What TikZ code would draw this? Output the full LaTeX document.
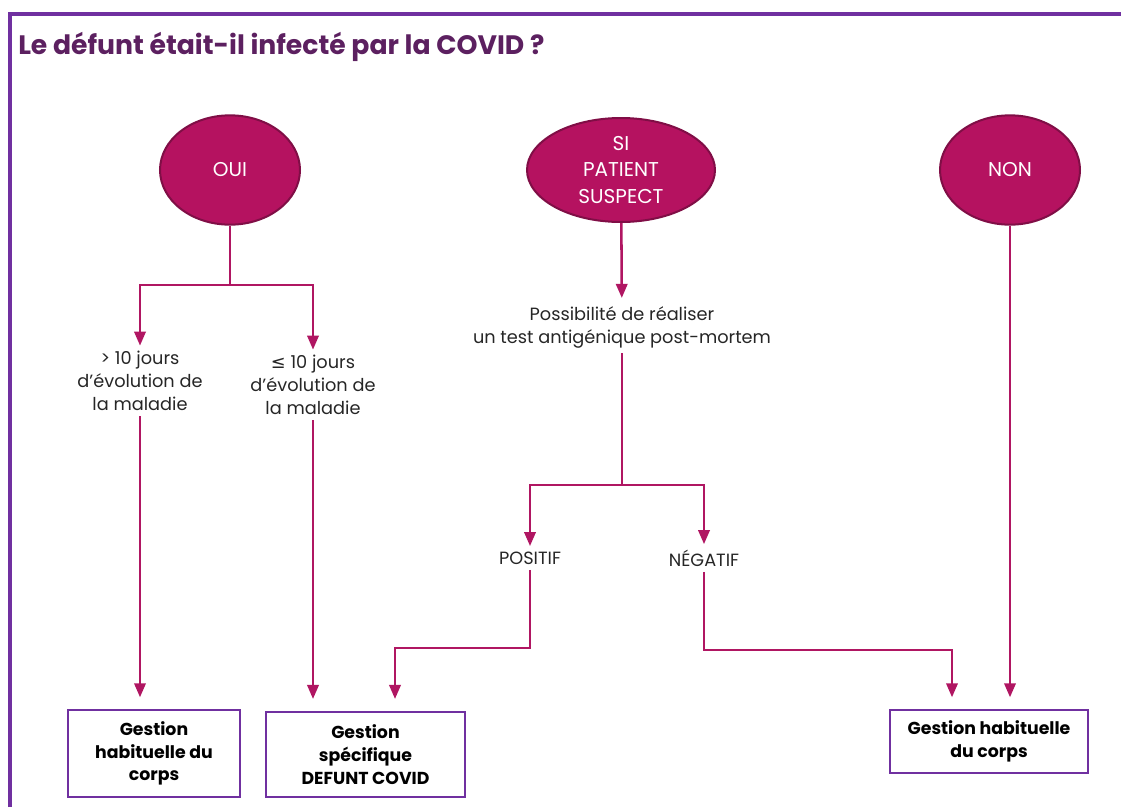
\documentclass[tikz,border=0pt]{standalone}
\usepackage{fontspec}
\setmainfont{Poppins}
\newfontfamily\symfont{DejaVu Sans}
\usetikzlibrary{shapes.geometric,arrows.meta}

\begin{document}
\begin{tikzpicture}[x=0.75pt, y=-0.75pt, >={Triangle[length=10.5pt,width=8.5pt]},
  choix/.style={ellipse, draw=bordchoix, line width=1.5pt, fill=fondchoix,
    text=white, align=center, inner sep=0pt, font=\fontsize{15}{20}\selectfont},
  etape/.style={align=center, inner sep=4pt, text=black!85,
    font=\fontsize{13.3}{17.2}\selectfont},
  gestion/.style={draw=cadre, line width=1.3pt, fill=white, align=center,
    font=\bfseries\fontsize{13}{17}\selectfont},
  lien/.style={draw=lien, line width=1.9pt},
  fleche/.style={lien, ->}]

\definecolor{cadre}{RGB}{112,48,160}
\definecolor{titre}{RGB}{92,32,96}
\definecolor{fondchoix}{RGB}{181,18,96}
\definecolor{bordchoix}{RGB}{128,14,70}
\definecolor{lien}{RGB}{176,22,98}

\useasboundingbox (0,0) rectangle (1121,807);

% cadre et titre
\draw[cadre, line width=3pt] (10,807) -- (10,14) -- (1121,14);
\node[anchor=west, inner sep=0pt, text=titre,
  font=\bfseries\fontsize{20}{24}\selectfont] (question) at (18,47)
  {Le défunt était-il infecté par la COVID ?};

% les trois cas
\node[choix, minimum width=105pt, minimum height=82pt] (oui) at (230,170) {OUI};
\node[choix, minimum width=141pt, minimum height=78pt] (suspect) at (621,170)
  {SI\\PATIENT\\SUSPECT};
\node[choix, minimum width=105pt, minimum height=82pt] (non) at (1010,170) {NON};

% branche OUI
\node[etape] (plus10) at (140,381) {> 10 jours\\d'évolution de\\la maladie};
\node[etape] (moins10) at (313,385) {{\symfont ≤} 10 jours\\d'évolution de\\la maladie};
\coordinate (fourche1) at (230,285);
\draw[lien] (oui) -- (fourche1);
\draw[fleche] (fourche1) -| (plus10);
\draw[fleche] (fourche1) -| (moins10);

% branche SI PATIENT SUSPECT
\node[etape] (test) at (622,327) {Possibilité de réaliser\\un test antigénique post-mortem};
\draw[fleche, shorten >=2pt] (suspect) -- (test);
\node[etape] (positif) at (530,558) {POSITIF};
\node[etape] (negatif) at (704,558) {NÉGATIF};
\coordinate (fourche2) at (622,485);
\draw[lien] (test) -- (fourche2);
\draw[fleche] (fourche2) -| (positif);
\draw[fleche] (fourche2) -| (negatif);

% gestions
\node[gestion, minimum width=129pt, minimum height=65pt] (habituelle1) at (154,753.5)
  {Gestion\\habituelle du\\corps};
\node[gestion, minimum width=149pt, minimum height=64pt] (specifique) at (365.5,754.5)
  {Gestion\\spécifique\\DEFUNT COVID};
\node[gestion, minimum width=148pt, minimum height=47pt] (habituelle2) at (989,741.5)
  {Gestion habituelle\\du corps};

\coordinate (coude1) at (395,648);
\coordinate (coude2) at (952,650);
\draw[fleche, shorten >=9pt] (plus10) -- (plus10 |- habituelle1.north);
\draw[fleche, shorten >=9pt] (moins10) -- (moins10 |- specifique.north);
\draw[fleche, shorten >=9pt] (positif) |- (coude1) -- (coude1 |- specifique.north);
\draw[fleche, shorten >=9pt] (negatif) |- (coude2) -- (coude2 |- habituelle2.north);
\draw[fleche, shorten >=9pt] (non) -- (non |- habituelle2.north);

\end{tikzpicture}
\end{document}
